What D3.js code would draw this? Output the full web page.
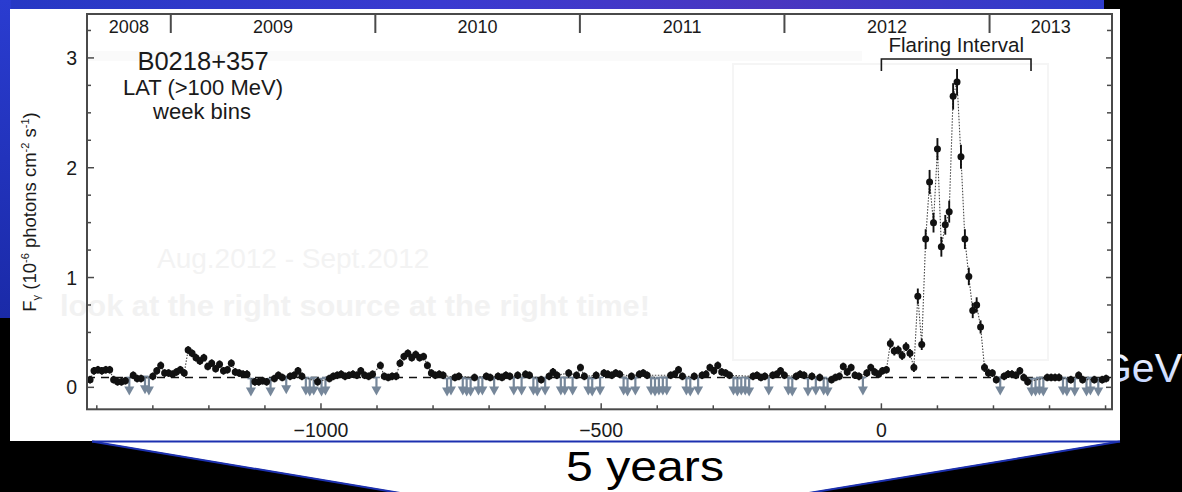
<!DOCTYPE html>
<html><head><meta charset="utf-8">
<script src="https://cdn.jsdelivr.net/npm/d3@7"></script>
<style>html,body{margin:0;padding:0;background:#000;overflow:hidden}svg{display:block}</style>
</head><body>
<svg id="c" width="1182" height="492"></svg>
<script>
// ---------------- data ----------------
const yearLabels = ["2008","2009","2010","2011","2012","2013"];
const yearStartDays = [-1268,-903,-538,-173,193];   // days relative to MJD 56100
const xTickValues = [-1000,-500,0];
const yTickValues = [0,1,2,3];
const firstWeekDay = -1412;
const weekLength = 7;
const flux = [
 0.07,0.15,0.16,0.15,0.16,0.16,0.07,0.05,0.05,0.06,
 0.09,0.11,0.08,0.08,0.10,0.09,0.10,0.15,0.20,0.13,
 0.13,0.12,0.14,0.16,0.13,0.34,0.31,0.27,0.24,0.27,
 0.19,0.22,0.17,0.21,0.15,0.16,0.22,0.14,0.13,0.12,
 0.12,0.08,0.05,0.05,0.06,0.05,0.08,0.08,0.11,0.09,
 0.10,0.10,0.11,0.15,0.10,0.09,0.08,0.09,0.05,0.08,
 0.09,0.08,0.10,0.11,0.12,0.10,0.11,0.12,0.11,0.15,
 0.11,0.10,0.12,0.09,0.20,0.10,0.09,0.10,0.10,0.22,
 0.28,0.31,0.27,0.30,0.27,0.28,0.20,0.13,0.11,0.12,
 0.11,0.08,0.09,0.09,0.10,0.09,0.08,0.08,0.09,0.09,
 0.09,0.10,0.09,0.09,0.10,0.09,0.11,0.10,0.09,0.11,
 0.09,0.12,0.11,0.09,0.08,0.07,0.09,0.10,0.14,0.11,
 0.09,0.09,0.13,0.09,0.11,0.18,0.10,0.09,0.08,0.11,
 0.09,0.13,0.12,0.11,0.13,0.12,0.09,0.08,0.10,0.09,
 0.12,0.13,0.11,0.09,0.08,0.09,0.09,0.09,0.11,0.12,
 0.16,0.10,0.09,0.08,0.10,0.09,0.11,0.12,0.18,0.15,
 0.20,0.14,0.13,0.11,0.09,0.08,0.09,0.09,0.08,0.10,
 0.11,0.09,0.10,0.09,0.11,0.12,0.15,0.11,0.09,0.08,
 0.10,0.12,0.11,0.08,0.10,0.09,0.09,0.09,0.08,0.07,
 0.09,0.10,0.19,0.14,0.18,0.11,0.10,0.09,0.13,0.18,
 0.14,0.12,0.15,0.16,0.40,0.33,0.34,0.29,0.37,0.31,
 0.18,0.83,0.39,1.35,1.87,1.50,2.17,1.28,1.48,1.60,
 2.65,2.78,2.10,1.35,1.01,0.70,0.75,0.55,0.18,0.13,
 0.13,0.07,0.09,0.10,0.12,0.12,0.11,0.15,0.09,0.05,
 0.08,0.08,0.09,0.08,0.09,0.09,0.09,0.09,0.09,0.08,
 0.07,0.08,0.11,0.07,0.08,0.09,0.07,0.08,0.07,0.08
];
const upperLimitWeeks = [10,14,15,41,46,50,55,56,57,59,60,73,91,92,95,96,97,99,100,103,108,110,113,114,116,120,121,123,127,128,130,136,137,139,143,144,145,146,147,152,153,155,164,165,166,167,168,173,178,179,183,185,187,188,197,232,240,241,242,243,248,249,251,254,255,257];
const baseErr = 0.035;
const flareErrStart = 204;
const flareErr = [0.045,0.04,0.04,0.04,0.04,0.04,0.04,0.07,0.05,0.09,0.11,0.09,0.10,0.09,0.09,0.10,0.12,0.12,0.11,0.09,0.08,0.07,0.07,0.06,0.04,0.04];
const baselineFlux = 0.09;
const flaringInterval = [0, 267];

// ---------------- drawing ----------------
const FONT = "'Liberation Sans', Arial, Helvetica, sans-serif";
const INK = "#1a1a1a";
const svg = d3.select("#c");
const defs = svg.append("defs");
const g1 = defs.append("linearGradient").attr("id","bgBlue").attr("x1",0).attr("x2",1).attr("y1",0).attr("y2",0);
g1.append("stop").attr("offset","0%").attr("stop-color","#2638c4");
g1.append("stop").attr("offset","40%").attr("stop-color","#3a3ad0");
g1.append("stop").attr("offset","70%").attr("stop-color","#4a36c0");
g1.append("stop").attr("offset","100%").attr("stop-color","#2e3ccc");
const g2 = defs.append("linearGradient").attr("id","bgLeft").attr("x1",0).attr("x2",0).attr("y1",0).attr("y2",1);
g2.append("stop").attr("offset","0%").attr("stop-color","#2a3cd0");
g2.append("stop").attr("offset","100%").attr("stop-color","#1a2aa8");
const g3 = defs.append("linearGradient").attr("id","gevGrad").attr("x1",0).attr("x2",0).attr("y1",0).attr("y2",1);
g3.append("stop").attr("offset","0%").attr("stop-color","#ffffff");
g3.append("stop").attr("offset","100%").attr("stop-color","#b8ccff");

svg.append("rect").attr("width",1182).attr("height",492).attr("fill","#000");
svg.append("rect").attr("x",0).attr("y",0).attr("width",1104).attr("height",10).attr("fill","url(#bgBlue)");
svg.append("rect").attr("x",0).attr("y",0).attr("width",11).attr("height",318).attr("fill","url(#bgLeft)");

svg.append("text").attr("x",1182).attr("y",382).attr("text-anchor","end")
  .attr("font-family",FONT).attr("font-size",41).attr("fill","url(#gevGrad)").text("GeV");

// white panel
svg.append("rect").attr("x",10).attr("y",9).attr("width",1110).attr("height",432).attr("fill","#fff");
// trapezoid
svg.append("polygon").attr("points","92,441 1120,441 812,492 397,492").attr("fill","#fff");
svg.append("line").attr("x1",92).attr("x2",1120).attr("y1",441.5).attr("y2",441.5).attr("stroke","#1c30b0").attr("stroke-width",2);
svg.append("line").attr("x1",92).attr("y1",441.5).attr("x2",400).attr("y2",493).attr("stroke","#1c30b0").attr("stroke-width",2);
svg.append("line").attr("x1",1120).attr("y1",441.5).attr("x2",809).attr("y2",493).attr("stroke","#1c30b0").attr("stroke-width",2);
svg.append("text").attr("x",566).attr("y",481).attr("font-family",FONT).attr("font-size",43)
  .attr("textLength",158).attr("lengthAdjust","spacingAndGlyphs").attr("fill","#000").text("5 years");

// ghost slide remnants (very faint)
svg.append("rect").attr("x",87).attr("y",51).attr("width",775).attr("height",10).attr("fill","#fafafa");
svg.append("rect").attr("x",733).attr("y",64).attr("width",315).attr("height",296).attr("fill","none").attr("stroke","#f5f5f5").attr("stroke-width",2);
svg.append("text").attr("x",157).attr("y",268).attr("font-family",FONT).attr("font-size",28).attr("fill","#f3f3f3").text("Aug.2012 - Sept.2012");
svg.append("text").attr("x",60).attr("y",316).attr("font-family",FONT).attr("font-size",30).attr("font-weight","bold")
  .attr("textLength",590).attr("lengthAdjust","spacingAndGlyphs").attr("fill","#f2f2f2").text("look at the right source at the right time!");

// scales
const L = 87, R = 1112, T = 14, B = 409.3;
const x = d3.scaleLinear().domain([-1417.5, 411.5]).range([L, R]);
const y = d3.scaleLinear().domain([-0.2, 3.4]).range([B, T]);

const ulSet = new Set(upperLimitWeeks);
const pts = flux.map((f,i)=>({
  day: firstWeekDay + weekLength*i, f,
  ul: ulSet.has(i),
  err: (i>=flareErrStart && i<flareErrStart+flareErr.length) ? flareErr[i-flareErrStart] : baseErr
}));
const det = pts.filter(p=>!p.ul), uls = pts.filter(p=>p.ul);

const plot = svg.append("g");
// baseline dashed
plot.append("line").attr("x1",x.range()[0]).attr("x2",x.range()[1]).attr("y1",y(baselineFlux)).attr("y2",y(baselineFlux))
  .attr("stroke","#111").attr("stroke-width",1.6).attr("stroke-dasharray","8,6");

// upper limits
const ulG = plot.append("g").attr("fill","#76879a").attr("stroke","#76879a");
uls.forEach(p=>{
  const cx = x(p.day), y0 = y(p.f);
  ulG.append("line").attr("x1",cx).attr("x2",cx).attr("y1",y0).attr("y2",y0+10).attr("stroke-width",2.2);
  ulG.append("line").attr("x1",cx-3.5).attr("x2",cx+3.5).attr("y1",y0).attr("y2",y0).attr("stroke-width",1.6);
  ulG.append("path").attr("d",`M${cx-5},${y0+9} L${cx+5},${y0+9} L${cx},${y0+18} Z`).attr("stroke","none");
});

// connecting dotted line
plot.append("path").datum(det)
  .attr("d", d3.line().x(p=>x(p.day)).y(p=>y(p.f)))
  .attr("fill","none").attr("stroke","#444").attr("stroke-width",1.1).attr("stroke-dasharray","1.5,1.5");

// detections
const dG = plot.append("g");
det.forEach(p=>{
  const cx = x(p.day), cy = y(p.f);
  dG.append("line").attr("x1",cx).attr("x2",cx).attr("y1",y(p.f+p.err)).attr("y2",y(p.f-p.err)).attr("stroke","#111").attr("stroke-width",1.9);
  dG.append("line").attr("x1",x(p.day-3.5)).attr("x2",x(p.day+3.5)).attr("y1",cy).attr("y2",cy).attr("stroke","#111").attr("stroke-width",1.6);
  dG.append("circle").attr("cx",cx).attr("cy",cy).attr("r",3.5).attr("fill","#111");
});

// frame and axes
const axG = svg.append("g").attr("font-family",FONT);
axG.append("rect").attr("x",L).attr("y",T).attr("width",R-L).attr("height",B-T).attr("fill","none").attr("stroke","#4a4a4a").attr("stroke-width",2);

// left & right y ticks (inward)
const yMinor = d3.range(0, 3.41, 0.25);
yMinor.forEach(v=>{
  const major = Math.abs(v-Math.round(v))<1e-6;
  axG.append("line").attr("x1",L).attr("x2",L+(major?7:4)).attr("y1",y(v)).attr("y2",y(v)).attr("stroke","#4a4a4a").attr("stroke-width",1.5);
  axG.append("line").attr("x1",R).attr("x2",R-(major?6:5)).attr("y1",y(v)).attr("y2",y(v)).attr("stroke","#4a4a4a").attr("stroke-width",1.5);
});
axG.selectAll("text.yt").data(yTickValues).enter().append("text").attr("class","yt")
  .attr("x",77).attr("y",v=>y(v)+7).attr("text-anchor","end").attr("font-size",19.5).attr("fill",INK).text(v=>v);

// bottom x ticks
const xMinor = d3.range(-1400, 401, 100);
xMinor.forEach(v=>{
  const major = xTickValues.includes(v);
  axG.append("line").attr("x1",x(v)).attr("x2",x(v)).attr("y1",B).attr("y2",B-(major?6:4)).attr("stroke","#4a4a4a").attr("stroke-width",1.5);
});
axG.selectAll("text.xt").data(xTickValues).enter().append("text").attr("class","xt")
  .attr("x",v=>x(v)).attr("y",437).attr("text-anchor","middle").attr("font-size",19.5).attr("fill",INK)
  .text(v=>v<0 ? "\u2212"+Math.abs(v) : v);

// top year ticks
yearStartDays.forEach(d=>{
  axG.append("line").attr("x1",x(d)).attr("x2",x(d)).attr("y1",T).attr("y2",T+19).attr("stroke","#4a4a4a").attr("stroke-width",2);
});
const dom = x.domain();
const bounds = [dom[0], ...yearStartDays, dom[1]];
yearLabels.forEach((lab,i)=>{
  const mid = (bounds[i]+bounds[i+1])/2;
  axG.append("text").attr("x",x(mid)).attr("y",33).attr("text-anchor","middle").attr("font-size",18).attr("fill",INK).text(lab);
});

// titles
axG.append("text").attr("x",203).attr("y",70).attr("text-anchor","middle").attr("font-size",25.5).attr("fill",INK).text("B0218+357");
axG.append("text").attr("x",203).attr("y",95).attr("text-anchor","middle").attr("font-size",22).attr("fill",INK).text("LAT (>100 MeV)");
axG.append("text").attr("x",202).attr("y",119).attr("text-anchor","middle").attr("font-size",22).attr("fill",INK).text("week bins");

// y-axis label
const yl = axG.append("text").attr("transform","translate(36,212) rotate(-90)").attr("text-anchor","middle").attr("font-size",18.5).attr("fill",INK);
yl.append("tspan").text("F");
yl.append("tspan").attr("font-size",11).attr("dy",4).text("\u03b3");
yl.append("tspan").attr("dy",-4).text(" (10");
yl.append("tspan").attr("font-size",11).attr("dy",-7).text("-6");
yl.append("tspan").attr("dy",7).text(" photons cm");
yl.append("tspan").attr("font-size",11).attr("dy",-7).text("-2");
yl.append("tspan").attr("dy",7).text(" s");
yl.append("tspan").attr("font-size",11).attr("dy",-7).text("-1");
yl.append("tspan").attr("dy",7).text(")");

// flaring interval bracket
const by = 59, legs = 71;
axG.append("path").attr("d",`M${x(flaringInterval[0])},${legs} V${by} H${x(flaringInterval[1])} V${legs}`)
  .attr("fill","none").attr("stroke",INK).attr("stroke-width",1.6);
axG.append("text").attr("x",(x(flaringInterval[0])+x(flaringInterval[1]))/2).attr("y",52).attr("text-anchor","middle")
  .attr("font-size",20.5).attr("fill",INK).text("Flaring Interval");
</script>
</body></html>
